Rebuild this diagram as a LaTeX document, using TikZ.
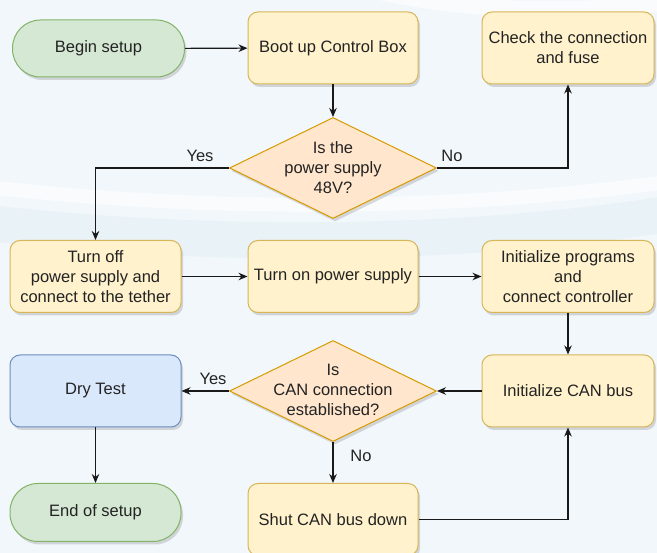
\documentclass[tikz,border=0pt]{standalone}
\usepackage{fontspec}
\setmainfont{Liberation Sans}
\usetikzlibrary{shapes.geometric,arrows.meta,shadows}

\definecolor{bgblue}{RGB}{242,247,251}
\definecolor{bandblue}{RGB}{233,242,247}
\definecolor{greenfill}{HTML}{D5E8D4}
\definecolor{greenline}{HTML}{82B366}
\definecolor{yellowfill}{HTML}{FFF2CC}
\definecolor{yellowline}{HTML}{D6B656}
\definecolor{orangefill}{HTML}{FFE6CC}
\definecolor{orangeline}{HTML}{D79B00}
\definecolor{bluefill}{HTML}{DAE8FC}
\definecolor{blueline}{HTML}{6C8EBF}
\definecolor{textgray}{RGB}{35,35,35}
\definecolor{linegray}{RGB}{25,25,25}

\tikzset{
  softshadow/.style={drop shadow={shadow xshift=2pt,shadow yshift=-3pt,opacity=0.2,fill=black!70}},
  basebox/.style={rectangle,rounded corners=10pt,line width=1pt,align=center,
    inner sep=2pt,text=textgray,softshadow,
    font=\fontsize{16.5}{20}\selectfont},
  procbox/.style={basebox,fill=yellowfill,draw=yellowline,minimum width=171pt,minimum height=72pt},
  termbox/.style={basebox,fill=greenfill,draw=greenline,minimum width=172pt,minimum height=57pt,rounded corners=28pt},
  testbox/.style={basebox,fill=bluefill,draw=blueline,minimum width=171pt,minimum height=72pt},
  decision/.style={diamond,fill=orangefill,draw=orangeline,line width=1pt,inner sep=0pt,
    minimum width=207pt,minimum height=101pt,softshadow},
  decisiontext/.style={align=center,inner sep=0pt,text=textgray,font=\fontsize{16.5}{20}\selectfont},
  flowlabel/.style={inner sep=0pt,text=textgray,font=\fontsize{16.5}{20}\selectfont},
  flow/.style={draw=linegray,line width=1.1pt,-{Stealth[length=9pt,width=7.5pt]}},
}

\begin{document}
\begin{tikzpicture}[x=1pt,y=-1pt]
  % page and background swooshes
  \useasboundingbox (0,0) rectangle (657,553);
  \fill[bgblue] (0,0) rectangle (657,553);
  \begin{scope}
    \clip (0,0) rectangle (657,553);
    \draw[bandblue,line width=36pt] (-20,222) .. controls (200,248) and (460,248) .. (680,212);
    \draw[white,opacity=0.6,line width=14pt] (-20,186) .. controls (200,212) and (460,212) .. (680,180);
    \draw[white,opacity=0.6,line width=16pt] (380,-8) .. controls (480,14) and (580,12) .. (680,2);
  \end{scope}

  % row 1
  \node[termbox] (begin) at (98.5,48.5) {Begin setup};
  \node[procbox,minimum width=170pt] (boot) at (333,48) {Boot up Control Box};
  \node[procbox,minimum width=172pt] (check) at (568,48) {Check the connection\\and fuse};

  % first decision
  \node[decision] (d1) at (333,168) {};
  \node[decisiontext] (d1txt) at (333,168) {Is the\\power supply\\48V?};

  % row 3
  \node[procbox] (off) at (95.5,276.5) {Turn off\\power supply and\\connect to the tether};
  \node[procbox,minimum width=170pt] (on) at (333,276.5) {Turn on power supply};
  \node[procbox,minimum width=172pt] (init) at (568,276.5) {Initialize programs\\and\\connect controller};

  % row 4
  \node[testbox] (dry) at (95.5,391) {Dry Test};
  \node[decision] (d2) at (333,391) {};
  \node[decisiontext] (d2txt) at (333,390) {Is\\CAN connection\\established?};
  \node[procbox,minimum width=172pt] (can) at (568,391) {Initialize CAN bus};

  % row 5
  \node[termbox,minimum width=171pt,minimum height=58pt] (end) at (95.5,512.5) {End of setup};
  \node[procbox,minimum width=170pt] (shut) at (333,519.5) {Shut CAN bus down};

  % connectors
  \draw[flow] (begin) -- (boot);
  \draw[flow] (boot) -- (d1);
  \draw[flow] (d1.west) -| (off.north);
  \draw[flow] (d1.east) -| (check.south);
  \draw[flow] (off) -- (on);
  \draw[flow] (on) -- (init);
  \draw[flow] (init) -- (can);
  \draw[flow] (can) -- (d2.east);
  \draw[flow] (d2.west) -- (dry);
  \draw[flow] (d2.south) -- (shut.north);
  \draw[flow] (shut.east) -| (can.south);
  \draw[flow] (dry) -- (end);

  % branch labels
  \node[flowlabel] (yes1) at (200,156) {Yes};
  \node[flowlabel] (no1) at (452,156) {No};
  \node[flowlabel] (yes2) at (213,379) {Yes};
  \node[flowlabel] (no2) at (361,456) {No};
\end{tikzpicture}
\end{document}
